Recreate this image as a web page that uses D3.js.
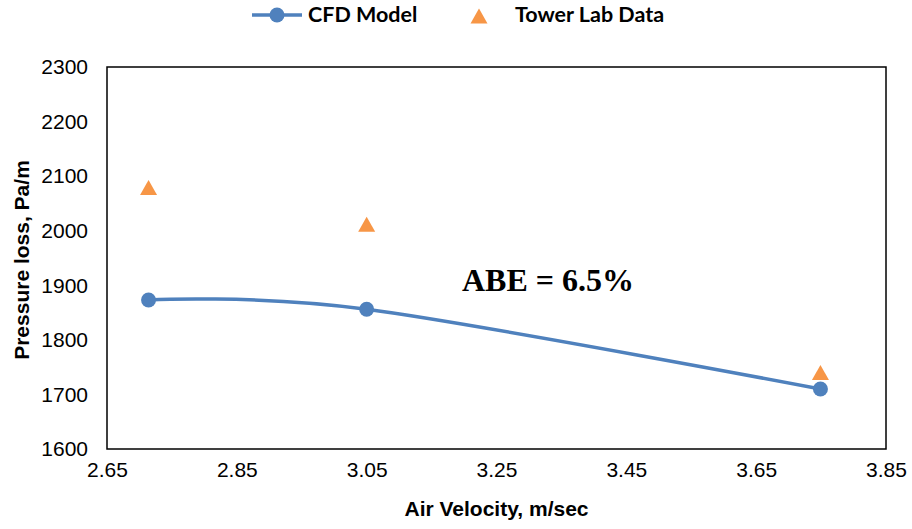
<!DOCTYPE html>
<html>
<head>
<meta charset="utf-8">
<script src="https://cdn.jsdelivr.net/npm/d3@7"></script>
<style>
  html, body { margin: 0; padding: 0; background: #fff; }
  svg { display: block; }
</style>
</head>
<body>
<svg id="chart" width="912" height="529"></svg>
<script>
// Air velocity (m/sec) and pressure loss (Pa/m)
const cfdVelocity = [2.714, 3.05, 3.749];
const cfdPressure = [1873, 1856, 1710];
const labVelocity = [2.714, 3.05, 3.749];
const labPressure = [2079, 2012, 1740];
const xTicks = [2.65, 2.85, 3.05, 3.25, 3.45, 3.65, 3.85];
const yTicks = [1600, 1700, 1800, 1900, 2000, 2100, 2200, 2300];
const seriesNames = ["CFD Model", "Tower Lab Data"];
const annotation = "ABE = 6.5%";

const blue = "#4F81BD";
const orange = "#F79646";
const sans = "Liberation Sans, Arial, sans-serif";

const svg = d3.select("#chart");
const m = { left: 107, right: 886, top: 67, bottom: 449 };

const x = d3.scaleLinear().domain([2.65, 3.85]).range([m.left, m.right]);
const y = d3.scaleLinear().domain([1600, 2300]).range([m.bottom, m.top]);

// plot frame
svg.append("rect")
  .attr("x", m.left).attr("y", m.top)
  .attr("width", m.right - m.left).attr("height", m.bottom - m.top)
  .attr("fill", "none").attr("stroke", "#000").attr("stroke-width", 1.5);

// axes (labels only, no tick marks)
const xAxis = d3.axisBottom(x).tickValues(xTicks).tickFormat(d3.format(".2f")).tickSize(0).tickPadding(13);
const gx = svg.append("g").attr("transform", `translate(0,${m.bottom})`).call(xAxis);
gx.select(".domain").remove();
gx.selectAll("text").attr("font-family", sans).attr("font-size", 21).attr("fill", "#000");

const yAxis = d3.axisLeft(y).tickValues(yTicks).tickFormat(d3.format("d")).tickSize(0).tickPadding(19);
const gy = svg.append("g").attr("transform", `translate(${m.left},0)`).call(yAxis);
gy.select(".domain").remove();
gy.selectAll("text").attr("font-family", sans).attr("font-size", 21).attr("fill", "#000");

// axis titles
svg.append("text")
  .attr("x", (m.left + m.right) / 2).attr("y", 516)
  .attr("text-anchor", "middle")
  .attr("font-family", sans)
  .attr("font-weight", "bold").attr("font-size", 21)
  .text("Air Velocity, m/sec");

svg.append("text")
  .attr("transform", `translate(29,${(m.top + m.bottom) / 2 + 2}) rotate(-90)`)
  .attr("text-anchor", "middle")
  .attr("font-family", sans)
  .attr("font-weight", "bold").attr("font-size", 21)
  .text("Pressure loss, Pa/m");

// CFD model: smoothed line with circle markers
const cfd = cfdVelocity.map((v, i) => [v, cfdPressure[i]]);
const line = d3.line().x(d => x(d[0])).y(d => y(d[1])).curve(d3.curveCatmullRom.alpha(0));
svg.append("path")
  .datum(cfd)
  .attr("d", line)
  .attr("fill", "none").attr("stroke", blue).attr("stroke-width", 3.5);

svg.selectAll(".cfd-pt").data(cfd).join("circle")
  .attr("class", "cfd-pt")
  .attr("cx", d => x(d[0])).attr("cy", d => y(d[1]))
  .attr("r", 7.5).attr("fill", blue);

// Tower lab data: triangle markers centred on their bounding box
const tri = "M0,-7.5L8.5,7.5L-8.5,7.5Z";
const lab = labVelocity.map((v, i) => [v, labPressure[i]]);
svg.selectAll(".lab-pt").data(lab).join("path")
  .attr("class", "lab-pt")
  .attr("transform", d => `translate(${x(d[0])},${y(d[1])})`)
  .attr("d", tri).attr("fill", orange);

// annotation
svg.append("text")
  .attr("x", 548).attr("y", 291)
  .attr("text-anchor", "middle")
  .attr("font-family", "Liberation Serif, Times New Roman, serif")
  .attr("font-weight", "bold").attr("font-size", 32)
  .text(annotation);

// legend
const lg = svg.append("g").attr("font-family", "Lato, Carlito, Calibri, sans-serif")
  .attr("font-weight", "bold").attr("font-size", 21.5);
lg.append("line").attr("x1", 252).attr("x2", 302).attr("y1", 15).attr("y2", 15)
  .attr("stroke", blue).attr("stroke-width", 3.5);
lg.append("circle").attr("cx", 277).attr("cy", 15).attr("r", 7.5).attr("fill", blue);
lg.append("text").attr("x", 308).attr("y", 22).text(seriesNames[0]);
lg.append("path").attr("transform", "translate(479,16)").attr("d", tri).attr("fill", orange);
lg.append("text").attr("x", 515).attr("y", 22).text(seriesNames[1]);
</script>
</body>
</html>
